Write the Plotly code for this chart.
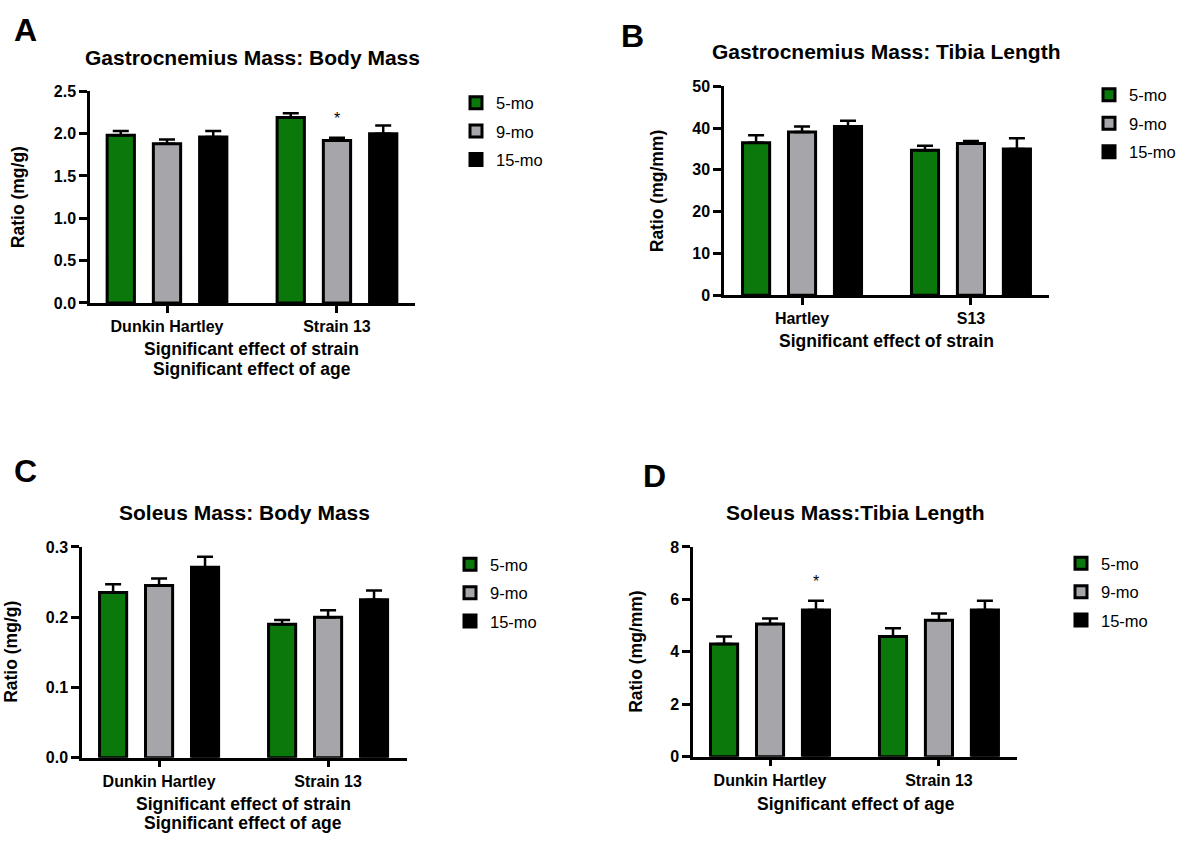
import plotly.graph_objects as go

W, H = 1187, 848

# ---------------- data ----------------
ages = ["5-mo", "9-mo", "15-mo"]
colors = ["#0a780a", "#a5a5aa", "#000000"]

cats_A = ["Dunkin Hartley", "Strain 13"]
A_5 = [1.98, 2.19]
A_9 = [1.88, 1.92]
A_15 = [1.96, 2.00]
A_5_sem = [0.05, 0.05]
A_9_sem = [0.05, 0.03]
A_15_sem = [0.07, 0.095]

cats_B = ["Hartley", "S13"]
B_5 = [36.5, 34.7]
B_9 = [39.1, 36.3]
B_15 = [40.4, 35.0]
B_5_sem = [1.8, 1.1]
B_9_sem = [1.3, 0.6]
B_15_sem = [1.4, 2.6]

cats_C = ["Dunkin Hartley", "Strain 13"]
C_5 = [0.235, 0.190]
C_9 = [0.245, 0.200]
C_15 = [0.271, 0.225]
C_5_sem = [0.012, 0.006]
C_9_sem = [0.010, 0.010]
C_15_sem = [0.015, 0.013]

cats_D = ["Dunkin Hartley", "Strain 13"]
D_5 = [4.30, 4.58]
D_9 = [5.06, 5.20]
D_15 = [5.60, 5.60]
D_5_sem = [0.28, 0.32]
D_9_sem = [0.21, 0.26]
D_15_sem = [0.35, 0.35]

titles = ["Gastrocnemius Mass: Body Mass", "Gastrocnemius Mass: Tibia Length",
          "Soleus Mass: Body Mass", "Soleus Mass:Tibia Length"]
ytitles = ["Ratio (mg/g)", "Ratio (mg/mm)", "Ratio (mg/g)", "Ratio (mg/mm)"]
xtitles = [["Significant effect of strain", "Significant effect of age"],
           ["Significant effect of strain"],
           ["Significant effect of strain", "Significant effect of age"],
           ["Significant effect of age"]]
letters = ["A", "B", "C", "D"]
y_ranges = [[0, 2.5], [0, 50], [0, 0.3], [0, 8]]
y_dticks = [0.5, 10, 0.1, 2]
y_formats = [".1f", "d", ".1f", "d"]
# significance stars: (panel index, category index, age index)
stars = [(0, 1, 1), (3, 0, 2)]

panels = [
    (cats_A, [A_5, A_9, A_15], [A_5_sem, A_9_sem, A_15_sem]),
    (cats_B, [B_5, B_9, B_15], [B_5_sem, B_9_sem, B_15_sem]),
    (cats_C, [C_5, C_9, C_15], [C_5_sem, C_9_sem, C_15_sem]),
    (cats_D, [D_5, D_9, D_15], [D_5_sem, D_9_sem, D_15_sem]),
]

# ---------------- layout (pixels) ----------------
FONT = "Liberation Sans, Arial, Helvetica, sans-serif"
dom_px = [  # x0, x1, ytop, ybottom
    (90, 415, 85, 301),
    (724, 1049, 80, 293),
    (82, 407, 550, 765),
    (693, 1017, 550, 764),
]
x_ranges = [[-0.453, 1.459], [-0.462, 1.462], [-0.456, 1.467], [-0.456, 1.462]]
title_px = [(253, 51), (886, 44), (244, 515), (855, 515)]
letter_px = [(12, 22), (619, 29), (12, 472), (641, 478)]
ytitle_px = [(18, 193), (657, 187), (11, 657), (636, 657)]
xtitle_px = [(252, [348, 368]), (886, [340]), (243, [812, 832]), (856, [812])]
legend_px = [(456, 79), (1089, 71), (450, 550), (1061, 549)]

BARGAP = 0.184
BARGROUPGAP = 0.41


def px(x):
    return x / W


def py(y):
    return 1 - y / H


fig = go.Figure()
annotations = []

for i, (cats, vals, sems) in enumerate(panels):
    n = "" if i == 0 else str(i + 1)
    xa, ya = "x" + n, "y" + n
    leg = "legend" + n
    for k in range(3):
        fig.add_trace(go.Bar(
            x=cats, y=vals[k], name=ages[k],
            marker=dict(color=colors[k], line=dict(color="black", width=3)),
            error_y=dict(type="data", array=sems[k], arrayminus=[0] * len(cats),
                         symmetric=False, color="black", thickness=2.5, width=8),
            xaxis=xa, yaxis=ya, legend=leg, legendgroup=f"g{i}{k}",
            showlegend=True, hoverinfo="skip",
        ))
    x0, x1, yt, yb = dom_px[i]
    fig.layout["xaxis" + n] = dict(
        domain=[px(x0), px(x1)], anchor=ya, type="category",
        categoryorder="array", categoryarray=cats,
        range=x_ranges[i], showline=True, linecolor="black", linewidth=2.5,
        ticks="outside", ticklen=7, tickwidth=2.5, tickcolor="black",
        showgrid=False, zeroline=False,
        tickfont=dict(family=FONT, size=16, color="black", weight="bold"),
    )
    fig.layout["yaxis" + n] = dict(
        domain=[py(yb), py(yt)], anchor=xa, range=y_ranges[i],
        dtick=y_dticks[i], tick0=0, tickformat=y_formats[i],
        showline=True, linecolor="black", linewidth=2.5,
        ticks="outside", ticklen=8, tickwidth=2.5, tickcolor="black",
        showgrid=False, zeroline=False,
        tickfont=dict(family=FONT, size=16, color="black", weight="bold"),
    )
    lx, ly = legend_px[i]
    fig.layout[leg] = dict(
        x=px(lx), y=py(ly), xanchor="left", yanchor="top",
        xref="paper", yref="paper", bgcolor="rgba(0,0,0,0)",
        font=dict(family=FONT, size=16.5, color="black"),
        tracegroupgap=4, traceorder="grouped",
    )
    # title
    tx, ty = title_px[i]
    annotations.append(dict(text=f"<b>{titles[i]}</b>", x=px(tx), y=py(ty),
                            xref="paper", yref="paper", showarrow=False,
                            xanchor="center", yanchor="middle",
                            font=dict(family=FONT, size=21, color="black")))
    # panel letter
    lx2, ly2 = letter_px[i]
    annotations.append(dict(text=f"<b>{letters[i]}</b>", x=px(lx2), y=py(ly2),
                            xref="paper", yref="paper", showarrow=False,
                            xanchor="left", yanchor="middle",
                            font=dict(family=FONT, size=32, color="black")))
    # y title
    yx, yy = ytitle_px[i]
    annotations.append(dict(text=f"<b>{ytitles[i]}</b>", x=px(yx), y=py(yy),
                            xref="paper", yref="paper", showarrow=False,
                            textangle=-90, xanchor="center", yanchor="middle",
                            font=dict(family=FONT, size=17.5, color="black")))
    # x title lines
    xx, xys = xtitle_px[i]
    for line, yline in zip(xtitles[i], xys):
        annotations.append(dict(text=f"<b>{line}</b>", x=px(xx), y=py(yline),
                                xref="paper", yref="paper", showarrow=False,
                                xanchor="center", yanchor="middle",
                                font=dict(family=FONT, size=17.5, color="black")))

# significance stars
slot = (1 - BARGAP) / 3
for (pi, ci, ai) in stars:
    cats, vals, sems = panels[pi]
    n = "" if pi == 0 else str(pi + 1)
    annotations.append(dict(text="*", x=ci + (ai - 1) * slot,
                            y=vals[ai][ci] + sems[ai][ci],
                            xref="x" + n, yref="y" + n, showarrow=False,
                            xanchor="center", yanchor="bottom", yshift=9,
                            font=dict(family=FONT, size=16, color="black")))

fig.update_layout(
    width=W, height=H, margin=dict(l=0, r=0, t=0, b=0),
    paper_bgcolor="white", plot_bgcolor="white",
    barmode="group", bargap=BARGAP, bargroupgap=BARGROUPGAP,
    annotations=annotations,
    font=dict(family=FONT, color="black"),
)

fig.write_html("out.html")
